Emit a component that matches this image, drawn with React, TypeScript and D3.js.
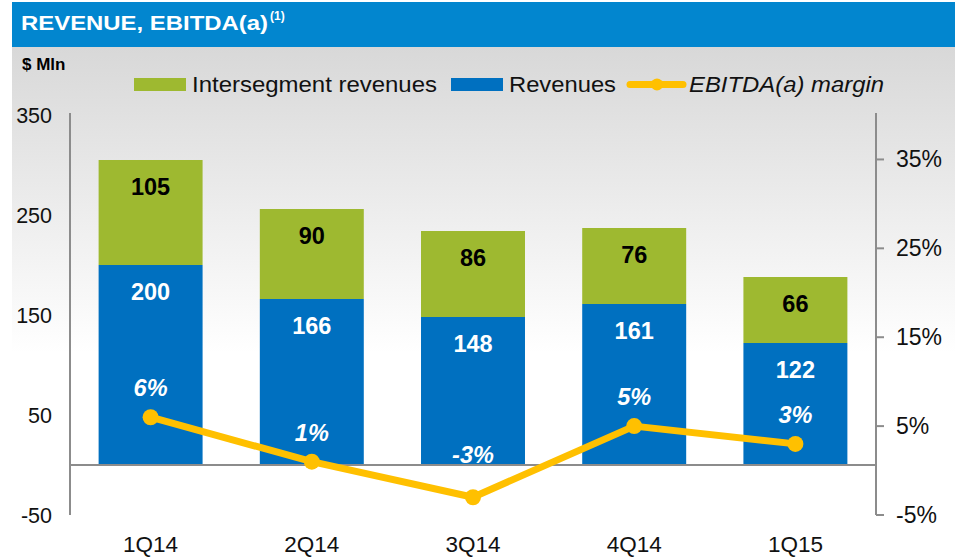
import { scaleBand, scaleLinear, line } from "d3";

const quarters = ["1Q14", "2Q14", "3Q14", "4Q14", "1Q15"];
const revenues = [200, 166, 148, 161, 122];
const intersegment = [105, 90, 86, 76, 66];
const ebitdaMargin = [0.06, 0.01, -0.03, 0.05, 0.03];
const leftTicks = [-50, 50, 150, 250, 350];
const rightTicks = [-0.05, 0.05, 0.15, 0.25, 0.35];

const W = 955;
const H = 557;
const FONT = "'Liberation Sans', Arial, sans-serif";
const BLUE = "#0070C0";
const GREEN = "#9EB930";
const YELLOW = "#FFC000";
const AXIS = "#8C8C8C";

const pct = (v: number) => `${Math.round(v * 100)}%`;

const App = () => {
  const x = scaleBand<string>()
    .domain(quarters)
    .range([70, 876])
    .paddingInner(0.355)
    .paddingOuter(0.1775);
  const y = scaleLinear().domain([-50, 350]).range([515, 115]);
  const y2 = scaleLinear().domain([-0.05, 0.4]).range([515, 115]);

  const cx = (q: string) => (x(q) ?? 0) + x.bandwidth() / 2;
  const pts = quarters.map((q, i) => [cx(q), y2(ebitdaMargin[i])] as [number, number]);
  const path = line()(pts) ?? "";

  return (
    <div style={{ position: "absolute", left: 0, top: 0 }}>
      <svg width={W} height={H} style={{ display: "block", fontFamily: FONT }}>
        <defs>
          <linearGradient id="bg" x1="0" y1="0" x2="0" y2="1">
            <stop offset="0" stopColor="#d8d8d8" />
            <stop offset="0.6" stopColor="#ffffff" />
            <stop offset="1" stopColor="#ffffff" />
          </linearGradient>
        </defs>
        <rect x={0} y={0} width={W} height={H} fill="#fff" />
        <rect x={12} y={47} width={W - 12} height={H - 47} fill="url(#bg)" />

        {/* header */}
        <rect x={12} y={2} width={W - 12} height={45} fill="#0286CF" />
        <text x={21} y={30} fill="#fff" fontWeight="bold" fontSize={21} textLength={247} lengthAdjust="spacingAndGlyphs">
          REVENUE, EBITDA(a)
        </text>
        <text x={270} y={20} fill="#fff" fontWeight="bold" fontSize={12}>(1)</text>
        <text x={22} y={70} fontWeight="bold" fontSize={17} fill="#000">$ Mln</text>

        {/* legend */}
        <rect x={134} y={78} width={52} height={13} fill={GREEN} />
        <text x={192} y={92} fontSize={22} fill="#111" textLength={245} lengthAdjust="spacingAndGlyphs">
          Intersegment revenues
        </text>
        <rect x={451} y={78} width={52} height={13} fill={BLUE} />
        <text x={509} y={92} fontSize={22} fill="#111" textLength={107} lengthAdjust="spacingAndGlyphs">
          Revenues
        </text>
        <line x1={630} x2={683} y1={84.5} y2={84.5} stroke={YELLOW} strokeWidth={7} strokeLinecap="round" />
        <circle cx={657} cy={84.5} r={6} fill={YELLOW} />
        <text x={689} y={92} fontSize={22} fontStyle="italic" fill="#111" textLength={195} lengthAdjust="spacingAndGlyphs">
          EBITDA(a) margin
        </text>

        {/* bars */}
        {quarters.map((q, i) => {
          const x0 = x(q) ?? 0;
          const bw = x.bandwidth();
          const rTop = y(revenues[i]);
          const gTop = y(revenues[i] + intersegment[i]);
          return (
            <g key={q}>
              <rect x={x0} y={rTop} width={bw} height={y(0) - rTop} fill={BLUE} />
              <rect x={x0} y={gTop} width={bw} height={rTop - gTop} fill={GREEN} />
              <text x={cx(q)} y={gTop + 35} textAnchor="middle" fontWeight="bold" fontSize={23.5} fill="#000">
                {intersegment[i]}
              </text>
              <text x={cx(q)} y={rTop + 35} textAnchor="middle" fontWeight="bold" fontSize={23.5} fill="#fff">
                {revenues[i]}
              </text>
            </g>
          );
        })}

        {/* axes */}
        <line x1={70} x2={70} y1={113} y2={515} stroke={AXIS} strokeWidth={2} />
        <line x1={70} x2={876} y1={y(0)} y2={y(0)} stroke={AXIS} strokeWidth={2} />
        <line x1={876} x2={876} y1={113} y2={515} stroke={AXIS} strokeWidth={2} />
        {leftTicks.map((t) => (
          <text key={t} x={52} y={y(t) + 7.5} textAnchor="end" fontSize={21.5} fill="#111">{t}</text>
        ))}
        {rightTicks.map((t) => (
          <g key={t}>
            <line x1={876} x2={884} y1={y2(t)} y2={y2(t)} stroke={AXIS} strokeWidth={2} />
            <text x={896} y={y2(t) + 8} fontSize={23} fill="#111">{pct(t)}</text>
          </g>
        ))}
        {quarters.map((q) => (
          <text key={q} x={cx(q)} y={552} textAnchor="middle" fontSize={22.5} fill="#111">{q}</text>
        ))}

        {/* EBITDA margin line */}
        <path d={path} fill="none" stroke={YELLOW} strokeWidth={7} strokeLinejoin="round" />
        {pts.map(([px, py], i) => (
          <g key={quarters[i]}>
            <circle cx={px} cy={py} r={8} fill={YELLOW} />
            <text x={px} y={py - (ebitdaMargin[i] < 0 ? 34 : 21)} textAnchor="middle" fontWeight="bold"
              fontStyle="italic" fontSize={23.5} fill="#fff">
              {pct(ebitdaMargin[i])}
            </text>
          </g>
        ))}
      </svg>
    </div>
  );
};

export default App;
